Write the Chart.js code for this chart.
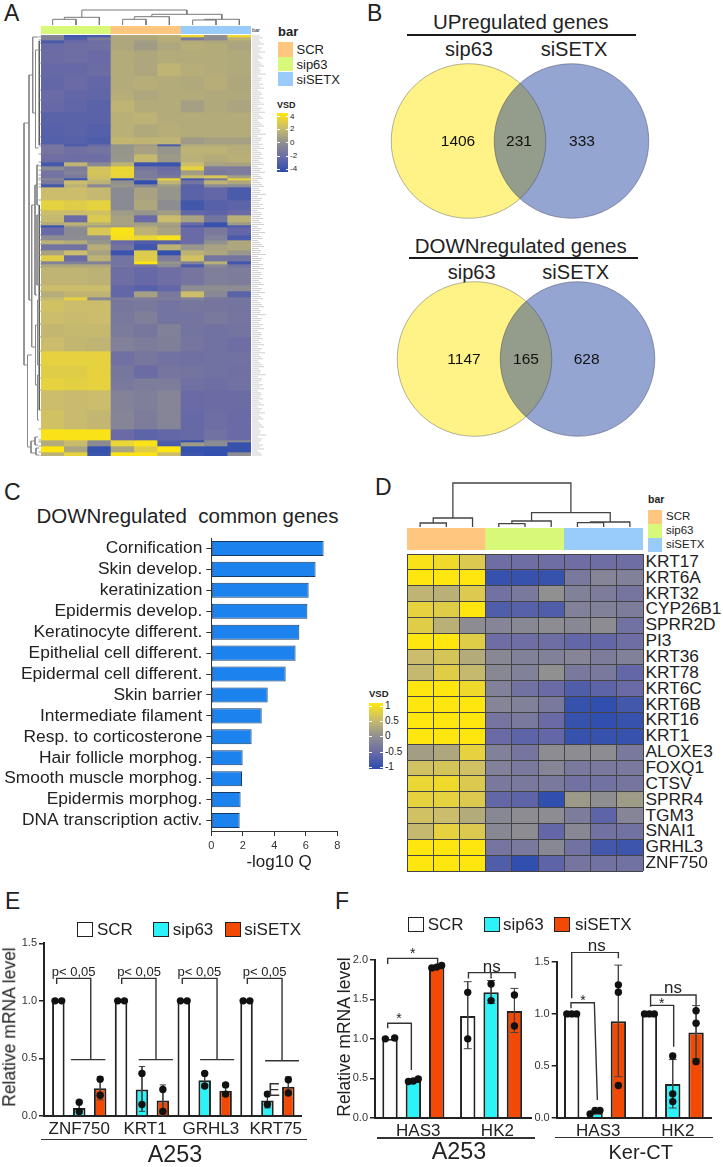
<!DOCTYPE html>
<html>
<head>
<meta charset="utf-8">
<title>Panels A-F</title>
<script src="https://cdn.jsdelivr.net/npm/chart.js@4"></script>
<style>
  html, body { margin: 0; padding: 0; background: #fff; }
  #page { position: relative; width: 723px; height: 1167px; overflow: hidden; font-family: "Liberation Sans", sans-serif; color: #222; }
  #page canvas { position: absolute; }
  .t { position: absolute; white-space: pre; line-height: 1; }
  .box { position: absolute; box-sizing: border-box; }
</style>
</head>
<body>
<div id="page"></div>
<script>
// ---------- data ----------
const groupNames = ['SCR', 'sip63', 'siSETX'];
const annoColors = ['#FFC680', '#D8F87A', '#99CCFA'];

// panel A: VSD per gene cluster (sip63 x3, SCR x3, siSETX x3), clusterSizes = row count of each cluster
const clusterSizesA = [2,3,3,7,13,13,14,10,12,12,13,7,2,8,8,4,4,5,3,2,4,3,13,10,5,7,3,2,8,5,
  4,6,5,6,3,3,18,6,6,3,11,13,13,14,14,13,12,20,19,11,2,4,6,4];
const hmARows = [
  [-.5,-3.3,-3,1.2,1.2,1.4,3.3,0,3.3],
  [-.8,-2.8,-1.2,1,1,1.3,-1.2,-.2,1.5],
  [-3,-2,-1.8,1,.6,1.2,1.2,1,1],
  [-2,-1.8,-1.7,1,.5,1,1.3,1.2,.9],
  [-1.9,-1.8,-2,1.2,1,1.2,1.2,1.2,1.1],
  [-2.1,-2.1,-1.9,1.2,1,1.6,1.3,1.2,1.1],
  [-2.2,-2,-2.2,1.2,1.3,1.2,1.1,1.3,1],
  [-2,-2.2,-2.3,1.3,1,1.2,1.2,1.1,1.1],
  [-2.1,-2.3,-2.5,1.6,1.2,1.2,.7,1.1,.9],
  [-2.5,-2.5,-2.5,1.4,1.5,1.2,1.2,1.2,1.2],
  [-2.6,-2.5,-2.7,1.4,1.1,1.3,1.2,1.2,1.2],
  [-2.7,-2.6,-2.8,1.7,1.6,1.6,.5,.7,.7],
  [-1.5,-3,-2,.2,.5,-3,1.2,1.2,1.2],
  [-1.4,-1.7,-1.5,.2,.8,.2,1.5,1.5,1.3],
  [-1.8,-1.8,-1.8,.3,1.8,.4,1.4,1.2,1.4],
  [-3.2,1.6,-.5,1.5,-3.4,-3.5,2,.8,.8],
  [-.3,-1,2.2,3.2,-1.5,-1.9,3,-1,-1],
  [-1.5,-.8,2.4,3.2,-1,-1.7,.6,-1.2,-1],
  [-1.5,-1.2,2.2,3,-1,-1.2,2,2.5,.7],
  [-.5,-3.4,2,-3.7,-.5,3.2,-3.2,-1.5,3],
  [-1.2,2,1.5,0,-3.8,1.6,-1.5,1.5,1],
  [-3.2,1.5,-.5,.3,-.5,.5,-2.5,-.2,-.2],
  [2,2,1.8,-.3,.8,.2,-2.5,-2.2,-3],
  [3,2.8,3,-.3,1,-.2,-3.2,-2.6,-2.4],
  [2,2,2.2,.5,.2,.6,-2.2,-2.4,-2],
  [1.8,-2,2.6,.8,-2,2,.8,-1.5,1.4],
  [1.2,1.5,1.5,.8,.6,.8,-2,-3.6,.5],
  [-3.5,.5,.5,.5,1,.5,-3,-3.5,-3],
  [-2,-.3,2.5,3.8,1.5,.8,-2,-1.2,-2.2],
  [-.2,-.2,-.2,3.6,3.2,3.7,-2,-.8,-3],
  [1.5,1.2,.2,-2,-2.8,-2.6,-2,0,1],
  [-1.5,-1.6,1.3,-1.5,-3.3,1.5,.3,.8,1],
  [.8,2,.8,-3.5,2.6,-3.8,1.5,1,.3],
  [2.8,-2,1.5,-1.5,2.8,-1,2.2,-1.5,-1.5],
  [-.8,-.8,-.8,-1.5,3.9,.2,-.8,1.4,-3.3],
  [1,1,1,-1.5,-1.5,-.3,-3,-.5,-1.5],
  [1.6,1.6,1.5,-1.8,-2.1,-1.8,-1.4,-.9,-1],
  [2,2,2,-2.2,-2.6,-2.2,-.2,-.1,-.2],
  [1.3,1.6,1.6,-2.2,.7,-1.2,2,-.5,-2.5],
  [1.8,3,-.5,-1,-1,-1,-.8,-1.3,-1.3],
  [2.2,2,2,-1.3,-1.2,-1.5,-1.3,-1.4,-1.5],
  [2,1.9,2,-1.2,-.9,-1.5,-1.5,-1.2,-1.4],
  [1.7,1.8,1.8,-1.1,-1.3,-.8,-1.5,-1.6,-1.5],
  [2,1.7,1.6,-.8,-1,-.9,-1.4,-1.6,-1.8],
  [3,3,3,-1.7,-1.3,-1.6,-1.7,-1.6,-1.6],
  [2.8,2.8,3,-1.3,-1.9,-1.4,-1.5,-1.6,-1.7],
  [3,2.9,3,-1.2,-1,-1,-1.7,-1.8,-1.6],
  [2,1.9,2,-.7,-.9,-.6,-2,-1.9,-1.9],
  [2.2,1.9,1.7,-.6,-1,-.6,-2.1,-1.8,-2],
  [3.8,3.8,3.8,-2,-2.4,-2.2,-2.1,-1.6,-2],
  [1.2,1.9,-.3,3.2,3.8,-2.8,-3.6,-.3,-.3],
  [1.2,1.9,-.3,3.2,3.8,-3,.5,-.2,-3.6],
  [4,.9,-3.7,.9,2.8,4,-3.7,-3.7,-3.6],
  [1.5,3,-3.4,3.8,3.8,2,-3.4,-3.8,-.2]
];
// dendrogram merges: [pos1, pos2, height, childHeight1, childHeight2]
const dendroTopA = [[.5,1.5,5.7,0,0],[1,2.5,7.7,5.7,0],[3.5,4.5,5.7,0,0],[4,5.5,8.3,5.7,0],[6.5,7.5,5,0,0],[7,8.5,5.7,5,0],[4.75,7.75,10.7,8.3,5.7],[1.75,6.25,15,7.7,10.7]];
const dendroLeftA = [[88,330,17,12,13.5],[40,265,12,8.3,9.3],[2,78,8.3,3,5.5],[15,113,5.5,2.5,2.5],[170,312,9.3,6,5.5],[150,260,6,4,4],[290,350,5.5,3.5,3.5],
  [130,170,4,2,2],[180,250,4,2,2],[265,330,3.5,2,2],[340,385,3.5,2,2],[320,412,13.5,9.3,10],[406,418,10,6,5],[402,410,6,3,3],[413,420,5,2,2]];
const rowLabelLengthsA = [8,11,7,9,12,6,10,8,13,7,9,11,6,8,10,12,7,9,8,14,6,10,9,7,11,8,12,6,9,10];

// panel B
const vennCentersX = [-51.5, 51.5];
const vennRadius = 77.3;
const vennUpCounts = ['1406', '231', '333'];
const vennDownCounts = ['1147', '165', '628'];

// panel C
const termsC = ['Cornification','Skin develop.','keratinization','Epidermis develop.','Keratinocyte different.','Epithelial cell different.','Epidermal cell different.','Skin barrier','Intermediate filament','Resp. to corticosterone','Hair follicle morphog.','Smooth muscle morphog.','Epidermis morphog.','DNA transcription activ.'];
const qValuesC = [7.13,6.62,6.18,6.1,5.59,5.35,4.72,3.58,3.2,2.56,1.99,1.95,1.86,1.8];
const qTicksC = [0,2,4,6,8];

// panel D (SCR x3, sip63 x3, siSETX x3)
const genesD = ['KRT17','KRT6A','KRT32','CYP26B1','SPRR2D','PI3','KRT36','KRT78','KRT6C','KRT6B','KRT16','KRT1','ALOXE3','FOXQ1','CTSV','SPRR4','TGM3','SNAI1','GRHL3','ZNF750'];
const hmDRows = [
  [.95,.85,.65,-.45,-.45,-.45,-.45,-.45,-.45],
  [1,1,1,-.9,-.9,-.9,-.3,-.15,-.2],
  [.4,.35,.65,-.4,-.3,0,-.2,-.25,-.35],
  [.75,.7,1,-.7,-.65,-.7,-.2,-.2,-.25],
  [.7,.35,-.05,-.15,-.1,-.05,-.1,-.05,-.4],
  [1,1,.7,-.45,-.45,-.45,-.55,-.55,-.45],
  [.5,.6,.3,-.1,-.2,-.2,-.15,-.25,-.2],
  [.45,.7,.45,-.1,-.2,0,-.3,-.3,-.55],
  [1,1,.85,-.2,-.4,-.5,-.7,-.6,-.5],
  [1,1,1,-.15,-.2,-.3,-.9,-.95,-.8],
  [1,1,1,-.35,-.3,-.5,-.9,-.95,-.9],
  [1,1,1,-.5,-.6,-.55,-.9,-.9,-.9],
  [.15,.25,.75,-.2,-.35,-.05,-.05,-.05,-.3],
  [.55,.6,.55,-.2,-.3,-.15,-.3,-.3,-.3],
  [.8,.85,.65,-.3,-.3,-.3,-.4,-.4,-.35],
  [.75,.75,.65,-.55,-.6,-.95,.1,-.02,.12],
  [.55,.5,.3,-.1,-.05,-.05,-.25,-.6,-.15],
  [.45,.75,.65,-.1,-.05,-.55,-.1,-.4,-.4],
  [1,1,1,-.35,-.3,-.1,-.4,-.8,-.85],
  [1,1,1,-.7,-.95,-.6,-.35,-.4,-.4]
];
const dendroTopD = [[.5,1.5,4,0,0],[1,2.5,9,4,0],[3.5,4.5,3.3,0,0],[4,5.5,6,3.3,0],[6.5,7.5,4.3,0,0],[7,8.5,5,4.3,0],[4.75,7.75,14.3,6,5],[1.75,6.25,44,9,14.3]];

// panel E
const genesE = ['ZNF750','KRT1','GRHL3','KRT75'];
const scrE = [1,1,1,1];
const sip63E = [.07,.23,.31,.135];
const siSETXE = [.24,.135,.22,.255];
const scrDotsE = [[1,1],[1,1],[1,1],[1,1]];
const sip63DotsE = [[.12,.04],[.37,.1],[.37,.26],[.19,.1]];
const siSETXDotsE = [[.32,.18],[.23,.04],[.27,.19],[.315,.2]];
const sip63ErrE = [[.02,.13],[.04,.43],[.25,.38],[.07,.21]];
const siSETXErrE = [[.14,.34],[0,.27],[.17,.285],[.18,.34]];

// panel F, A253
const genesF = ['HAS3','HK2'];
const scrF1 = [1,1.29];
const sip63F1 = [.465,1.59];
const siSETXF1 = [1.92,1.353];
const scrDotsF1 = [[1,1.01],[1.59,1]];
const sip63DotsF1 = [[.46,.465,.49],[1.695,1.485]];
const siSETXDotsF1 = [[1.9,1.91,1.93],[1.556,1.163]];
const scrErrF1 = [null,[.875,1.725]];
const sip63ErrF1 = [null,[1.45,1.74]];
const siSETXErrF1 = [null,[1.08,1.64]];

// panel F, Ker-CT
const scrF2 = [1,1];
const sip63F2 = [.048,.325];
const siSETXF2 = [.93,.82];
const scrDotsF2 = [[1,1,1],[1,1,1]];
const sip63DotsF2 = [[.035,.07,.07],[.594,.23,.155]];
const siSETXDotsF2 = [[1.28,1.208,.31],[1.03,.91,.54]];
const scrErrF2 = [null,null];
const sip63ErrF2 = [null,[.093,.56]];
const siSETXErrF2 = [[.395,1.47],[.57,1.08]];

// ---------- helpers ----------
Chart.defaults.animation = false;
Chart.defaults.font.family = '"Liberation Sans", sans-serif';
Chart.defaults.plugins.legend.display = false;
Chart.defaults.plugins.tooltip.enabled = false;
const FONT_COLOR = '#222';
const page = document.getElementById('page');

function newCanvas(left, top, w, h) {
  const c = document.createElement('canvas');
  c.width = w; c.height = h;
  c.style.left = left + 'px'; c.style.top = top + 'px';
  c.style.width = w + 'px'; c.style.height = h + 'px';
  page.appendChild(c);
  return c;
}
// x, y = centre of the text unless anchor says otherwise
function label(text, x, y, size, opts) {
  opts = opts || {};
  const d = document.createElement('div');
  d.className = 't';
  d.textContent = text;
  d.style.left = x + 'px'; d.style.top = y + 'px';
  d.style.fontSize = size + 'px';
  if (opts.bold) d.style.fontWeight = 'bold';
  if (opts.color) d.style.color = opts.color;
  if (opts.bg) d.style.background = opts.bg;
  const tx = opts.anchor === 'left' ? '0' : opts.anchor === 'right' ? '-100%' : '-50%';
  d.style.transform = `translate(${tx},-50%)` + (opts.rot ? ` rotate(${opts.rot}deg)` : '');
  page.appendChild(d);
}
function box(x, y, w, h, bg, border) {
  const d = document.createElement('div');
  d.className = 'box';
  d.style.cssText = `left:${x}px;top:${y}px;width:${w}px;height:${h}px;background:${bg};` + (border ? `border:${border};` : '');
  page.appendChild(d);
  return d;
}
// colour map shared by both heat maps, t from -1 to 1
const cmapStops = [[-1,[42,76,175]],[-.5,[106,106,166]],[0,[144,144,144]],[.5,[203,189,108]],[1,[255,230,15]]];
function cmap(t) {
  t = Math.max(-1, Math.min(1, t));
  for (let i = 1; i < cmapStops.length; i++) {
    if (t <= cmapStops[i][0]) {
      const a = cmapStops[i-1], b = cmapStops[i], f = (t - a[0]) / (b[0] - a[0]);
      const c = a[1].map((v, k) => Math.round(v + (b[1][k] - v) * f));
      return `rgb(${c.join(',')})`;
    }
  }
}
function colorBar(x, y, w, h) {
  const stops = cmapStops.slice().reverse().map(s => `rgb(${s[1].join(',')}) ${(1 - s[0]) * 50}%`).join(',');
  box(x, y, w, h, `linear-gradient(to bottom, ${stops})`);
}
const hiddenAxis = (extra) => Object.assign({ display: false }, extra);

// stacked bars: one dataset per row, one bar per column
function heatChart(left, top, w, h, sizes, rows, colorOf, gridColor) {
  const pad = gridColor ? 1 : 0;
  const total = sizes.reduce((a, b) => a + b, 0);
  const columns = rows[0].map((_, i) => 'c' + i);
  const gridOpts = gridColor ? { display: true, ticks: { display: false }, border: { display: false },
    grid: { color: gridColor, lineWidth: 1, drawTicks: false, z: 1 } } : { display: false };
  new Chart(newCanvas(left - pad, top - pad, w + 2 * pad, h + 2 * pad), {
    type: 'bar',
    data: {
      labels: columns,
      datasets: rows.map((r, i) => ({
        data: r.map(() => sizes[i]),
        backgroundColor: r.map(colorOf),
        borderWidth: 0, barPercentage: 1, categoryPercentage: 1
      }))
    },
    options: {
      responsive: false,
      layout: { padding: pad, autoPadding: false },
      scales: {
        x: Object.assign({ stacked: true }, gridOpts),
        y: Object.assign({ stacked: true, reverse: true, min: 0, max: total, ticks: { display: false, stepSize: 1 } }, gridOpts,
          gridColor ? { ticks: { display: false, stepSize: 1 } } : {})
      }
    }
  });
}
function dendroPoints(links, horizontal) {
  const pts = [];
  const add = (pos, h) => pts.push(horizontal ? { x: pos, y: h } : { x: h, y: pos });
  links.forEach(l => {
    add(l[0], l[3]); add(l[0], l[2]); add(l[1], l[2]); add(l[1], l[4]);
    pts.push({ x: NaN, y: NaN });
  });
  return pts;
}
function lineChart(left, top, w, h, xr, yr, datasets) {
  new Chart(newCanvas(left, top, w, h), {
    type: 'scatter',
    data: { datasets: datasets.map(d => Object.assign({ showLine: true, pointRadius: 0, clip: false, spanGaps: false }, d)) },
    options: {
      responsive: false,
      layout: { autoPadding: false },
      scales: {
        x: hiddenAxis({ type: 'linear', min: xr[0], max: xr[1], reverse: !!xr[2] }),
        y: hiddenAxis({ type: 'linear', min: yr[0], max: yr[1], reverse: !!yr[2] })
      }
    }
  });
}
function venn(centerX, centerY) {
  new Chart(newCanvas(centerX - 160, centerY - 85, 320, 170), {
    type: 'bubble',
    data: {
      datasets: [
        { data: [{ x: vennCentersX[0], y: 0, r: vennRadius }], backgroundColor: '#FFF287', borderColor: 'rgba(60,60,60,.55)', borderWidth: .7, order: 2 },
        { data: [{ x: vennCentersX[1], y: 0, r: vennRadius }], backgroundColor: 'rgba(0,40,148,.42)', borderColor: 'rgba(40,40,60,.55)', borderWidth: .7, order: 1 }
      ]
    },
    options: {
      responsive: false,
      layout: { autoPadding: false },
      scales: { x: hiddenAxis({ min: -160, max: 160 }), y: hiddenAxis({ min: -85, max: 85 }) }
    }
  });
}
// fixed axis size and no label overhang, so the plot area lands where it is asked to
const fitTo = (size) => (scale) => {
  if (scale.isHorizontal()) scale.height = size; else scale.width = size;
  scale.paddingTop = scale.paddingBottom = scale.paddingLeft = scale.paddingRight = 0;
};

// bars + whiskers + dots + brackets on a numeric x axis
function barPanel(cfg) {
  const barX = (g, s) => cfg.groupX[g] + s;
  const barData = cfg.series.map((vals, s) => vals.map((v, g) => ({ x: barX(g, s), y: v })));
  const dots = [], whisk = [], brackets = [];
  cfg.dots.forEach((perGroup, s) => perGroup.forEach((ys, g) => {
    const near = Math.max(...ys) - Math.min(...ys) < .05;
    ys.forEach((y, i) => {
      const off = !near ? 0 : ys.length === 2 ? (i ? cfg.spread2 : -cfg.spread2) : (i - 1) * .21;
      dots.push({ x: barX(g, s) + off, y: y });
    });
  }));
  cfg.errs.forEach((perGroup, s) => perGroup.forEach((e, g) => {
    if (!e) return;
    const x = barX(g, s), c = cfg.cap;
    whisk.push({ x: x - c, y: e[1] }, { x: x + c, y: e[1] }, { x: NaN, y: NaN }, { x: x, y: e[1] }, { x: x, y: e[0] }, { x: NaN, y: NaN },
      { x: x - c, y: e[0] }, { x: x + c, y: e[0] }, { x: NaN, y: NaN });
  }));
  cfg.brackets.forEach(b => { b.forEach(p => brackets.push({ x: p[0], y: p[1] })); brackets.push({ x: NaN, y: NaN }); });
  const colors = ['#fff', '#2BF3F8', '#F24A04'];
  const datasets = barData.map((d, s) => ({
    label: groupNames[s], type: 'bar', data: d, backgroundColor: colors[s], borderColor: '#222', borderWidth: 2,
    grouped: false, barPercentage: cfg.barPct, categoryPercentage: 1, order: 5
  }));
  datasets.push({ type: 'scatter', data: whisk, showLine: true, pointRadius: 0, borderColor: '#444', borderWidth: 1, order: 3 });
  datasets.push({ type: 'scatter', data: brackets, showLine: true, pointRadius: 0, borderColor: '#333', borderWidth: 1.4, clip: false, order: 2 });
  datasets.push({ type: 'scatter', data: dots, pointRadius: 3.7, backgroundColor: '#111', borderWidth: 0, clip: false, order: 1 });
  new Chart(newCanvas(cfg.left, cfg.top, cfg.w, cfg.h), {
    data: { datasets },
    options: {
      responsive: false,
      layout: { autoPadding: false, padding: cfg.padding },
      scales: {
        x: {
          type: 'linear', min: cfg.xr[0], max: cfg.xr[1], offset: false,
          afterBuildTicks: (s) => { s.ticks = cfg.tickX.map(v => ({ value: v })); },
          afterFit: fitTo(cfg.axisH),
          ticks: { autoSkip: false, maxRotation: 0, padding: 3, color: FONT_COLOR, font: { size: 17 }, callback: (v, i) => cfg.tickLabels[i] },
          grid: { display: false, drawTicks: false, offset: false }, border: { color: '#222', width: 2 }
        },
        y: {
          min: 0, max: cfg.yMax,
          afterFit: fitTo(cfg.axisW),
          ticks: { stepSize: .5, padding: 2, color: '#333', font: { size: 11 }, callback: v => v.toFixed(1) },
          grid: { drawOnChartArea: false, tickLength: 5, color: '#222', lineWidth: 1.5 }, border: { color: '#222', width: 2 }
        }
      }
    }
  });
}
function barLegend(items) {
  const fills = ['#fff', '#2BF3F8', '#F24A04'];
  items.forEach((it, i) => {
    box(it[0], it[1], 16, 15, fills[i], '1.5px solid #222');
    label(groupNames[i], it[2], it[1] + 6.5, 17, { anchor: 'left' });
  });
}

// ---------- panel letters ----------
[['A',4,13],['B',367,13],['C',4,492],['D',375,487],['E',5,901],['F',335,901]].forEach(p => label(p[0], p[1], p[2], 23, { anchor: 'left' }));

// ---------- panel A ----------
const colOrderA = [1, 1, 1, 0, 0, 0, 2, 2, 2];
heatChart(41, 26, 210, 8, [1], [colOrderA], g => annoColors[g]);
heatChart(41, 35, 210, 421, clusterSizesA, hmARows, v => cmap(v / 4));
lineChart(41, 8, 210, 17, [0, 9], [0, 17], [{ data: dendroPoints(dendroTopA, true), borderColor: '#777', borderWidth: 1 }]);
// leaves of the row dendrogram follow the cluster edges
const leavesA = [];
let rowSum = 0;
clusterSizesA.forEach(n => { rowSum += n; leavesA.push({ x: 0, y: rowSum }, { x: 2.5, y: rowSum }, { x: NaN, y: NaN }); });
lineChart(20, 35, 21, 421, [0, 21, true], [0, 421, true], [
  { data: dendroPoints(dendroLeftA, false), borderColor: '#888', borderWidth: 1 },
  { data: leavesA, borderColor: '#888', borderWidth: .8 },
  { data: [{ x: 1.8, y: 6 }, { x: 1.8, y: 110 }, { x: NaN, y: NaN }, { x: 1.8, y: 170 }, { x: 1.8, y: 375 }], borderColor: '#333', borderWidth: 1.2 }
]);
// row labels are too small to read in the figure: light strokes of label length
const rowMarksA = [];
for (let i = 0; i < 210; i++) {
  rowMarksA.push({ x: 0, y: i + .5 }, { x: rowLabelLengthsA[i % rowLabelLengthsA.length], y: i + .5 }, { x: NaN, y: NaN });
}
lineChart(252, 35, 15, 421, [0, 15], [0, 210, true], [{ data: rowMarksA, borderColor: '#cfcfcf', borderWidth: 1 }]);
label('bar', 252, 30.7, 5.5, { anchor: 'left' });
label('bar', 278, 30.7, 13, { anchor: 'left', bold: true });
[42, 56.7, 71.5].forEach((y, i) => {
  box(278, y, 14.5, 14.5, annoColors[i]);
  label(groupNames[i], 296.5, y + 7.3, 13, { anchor: 'left' });
});
label('VSD', 277, 105, 9, { anchor: 'left', bold: true });
colorBar(277.3, 113.3, 11, 58.4);
[['4',116.7],['2',129.3],['0',142.7],['-2',156],['-4',169.3]].forEach(p => {
  box(277.3, p[1] - .4, 2.5, .8, '#fff'); box(285.8, p[1] - .4, 2.5, .8, '#fff');
  label(p[0], 290, p[1], 8, { anchor: 'left' });
});

// ---------- panel B ----------
function vennPanel(title, titleY, lineX, lineW, lineY, sipX, setxX, nameY, cx, cy, counts, countX) {
  label(title, 520.7, titleY, 20.5);
  box(lineX, lineY - 1, lineW, 2, '#1a1a1a');
  label('sip63', sipX, nameY, 20); label('siSETX', setxX, nameY, 20);
  venn(cx, cy);
  counts.forEach((c, i) => label(c, countX[i], cy, 15.5, { color: '#111' }));
}
vennPanel('UPregulated genes', 22, 406.7, 229.3, 34.7, 469, 574, 48.5, 520.2, 140.8, vennUpCounts, [458, 519, 582]);
vennPanel('DOWNregulated genes', 245.5, 409, 229, 258.3, 471.7, 575.7, 271.5, 525.8, 359.2, vennDownCounts, [464, 526, 586.7]);

// ---------- panel C ----------
label('DOWNregulated  common genes', 36.5, 516, 20.5, { anchor: 'left' });
new Chart(newCanvas(0, 530, 345, 345), {
  type: 'bar',
  data: { labels: termsC, datasets: [{ data: qValuesC, backgroundColor: '#1B82EE', borderColor: '#173a63', borderWidth: 1, borderSkipped: false, barPercentage: .72, categoryPercentage: 1 }] },
  options: {
    indexAxis: 'y', responsive: false,
    layout: { autoPadding: false, padding: { top: 8, right: 7.7 } },
    scales: {
      x: {
        min: qTicksC[0], max: qTicksC[qTicksC.length - 1], afterFit: fitTo(44),
        ticks: { stepSize: 2, padding: 3, color: '#333', font: { size: 11 } },
        grid: { drawOnChartArea: false, tickLength: 5, color: '#333' }, border: { color: '#333', width: 1 }
      },
      y: {
        afterFit: fitTo(211.3),
        ticks: { autoSkip: false, padding: 4, color: FONT_COLOR, font: { size: 17.4 } },
        grid: { drawOnChartArea: false, tickLength: 5, color: '#333', offset: false }, border: { color: '#333', width: 1 }
      }
    }
  }
});
label('-log10 Q', 279, 861, 17);

// ---------- panel D ----------
heatChart(407.3, 528, 236, 21.5, [1], [[0,0,0,1,1,1,2,2,2]], g => annoColors[g]);
heatChart(407.3, 554, 236, 317, genesD.map(() => 1), hmDRows, v => cmap(v), '#444');
lineChart(407.3, 480, 236, 47, [0, 9], [0, 47], [{ data: dendroPoints(dendroTopD, true), borderColor: '#444', borderWidth: 1.3 }]);
genesD.forEach((g, i) => label(g, 645.5, 554 + (i + .5) * 15.85, 17.3, { anchor: 'left' }));
label('bar', 648, 499, 10.5, { anchor: 'left', bold: true });
[510, 524, 538].forEach((y, i) => {
  box(648, y, 13.5, 13.5, annoColors[i]);
  label(groupNames[i], 666, y + 7, 11.5, { anchor: 'left' });
});
label('VSD', 369, 694, 9.5, { anchor: 'left', bold: true });
colorBar(369, 703, 13.5, 66);
[['1',706],['0.5',721],['0',736],['-0.5',752],['-1',767]].forEach(p => {
  box(369, p[1] - .4, 2.5, .8, '#fff'); box(380, p[1] - .4, 2.5, .8, '#fff');
  label(p[0], 385, p[1], 10, { anchor: 'left' });
});

// ---------- panel E ----------
barPanel({
  left: 0, top: 935, w: 310, h: 210, padding: { top: 8.3, right: 8.3 }, axisW: 44, axisH: 29,
  xr: [-.686, 11.64], yMax: 1.5, groupX: [0, 3, 6, 9], barPct: .6, cap: .15, spread2: .16,
  series: [scrE, sip63E, siSETXE], dots: [scrDotsE, sip63DotsE, siSETXDotsE],
  errs: [[null, null, null, null], sip63ErrE, siSETXErrE],
  brackets: [
    [[-.08,1.146],[-.08,1.195],[1.55,1.195],[1.55,.49]], [[.6,.49],[2.25,.49]],
    [[3.03,1.146],[3.03,1.195],[4.67,1.195],[4.67,.49]], [[3.84,.49],[5.48,.49]],
    [[5.93,1.146],[5.93,1.195],[7.59,1.195],[7.59,.49]], [[6.78,.49],[8.41,.49]],
    [[9.04,1.146],[9.04,1.195],[10.7,1.195],[10.7,.48]], [[9.89,.48],[11.51,.48]]
  ],
  tickX: [1, 4.15, 7.3, 10.4], tickLabels: genesE
});
[221, 417, 598, 794].forEach(z => label('p< 0,05', z / 3, 971, 13));
label('Relative mRNA level', 10, 1027, 17.5, { rot: -90 });
barLegend([[77, 922, 97], [153, 922, 172.7], [225, 922, 244.3]]);
box(40.7, 1138.5, 266, 1.6, '#333');
label('A253', 175, 1155, 23.3);
label('E', 274, 1090, 18, { color: '#333' });

// ---------- panel F ----------
const fGroupStep = 3.33;
barPanel({
  left: 340, top: 950, w: 200, h: 195, padding: { top: 10, right: 8.3 }, axisW: 35, axisH: 27.3,
  xr: [-.643, 6.07], yMax: 2, groupX: [0, fGroupStep], barPct: .66, cap: .17, spread2: .2,
  series: [scrF1, sip63F1, siSETXF1], dots: [scrDotsF1, sip63DotsF1, siSETXDotsF1],
  errs: [scrErrF1, sip63ErrF1, siSETXErrF1],
  brackets: [
    [[-.1,1.133],[-.1,1.197],[.914,1.197],[.914,.605]],
    [[-.1,1.95],[-.1,2.02],[2.04,2.02],[2.04,1.95]],
    [[3.36,1.765],[3.36,1.84],[5.36,1.84],[5.36,1.765]], [[4.33,1.84],[4.33,1.765]]
  ],
  tickX: [1.21, 4.6], tickLabels: genesF
});
barPanel({
  left: 520, top: 952, w: 200, h: 193, padding: { top: 10, right: 8.3 }, axisW: 36.7, axisH: 27.3,
  xr: [-.643, 6], yMax: 1.5, groupX: [0, fGroupStep], barPct: .66, cap: .17, spread2: .2,
  series: [scrF2, sip63F2, siSETXF2], dots: [scrDotsF2, sip63DotsF2, siSETXDotsF2],
  errs: [scrErrF2, sip63ErrF2, siSETXErrF2],
  brackets: [
    [[0,1.15],[0,1.593],[2,1.593],[2,1.535]],
    [[-.03,1.054],[-.03,1.108],[.97,1.108],[1.1,.17]],
    [[3.38,1.07],[3.38,1.182],[5.33,1.182],[5.33,1.086]],
    [[3.38,1.082],[4.37,1.082],[4.37,.684]]
  ],
  tickX: [1.14, 4.55], tickLabels: genesF
});
label('Relative mRNA level', 345, 1037, 17.5, { rot: -90 });
barLegend([[408, 917, 427.7], [484, 917, 503], [554, 917, 575]]);
label('*', 399, 1018, 14); label('*', 412.7, 953, 14);
label('ns', 491.7, 966, 17);
label('ns', 596.7, 945, 17); label('*', 583, 1000, 14);
label('ns', 673, 986.7, 17); label('*', 661.7, 1003, 14);
box(376.7, 1137, 158.3, 1.6, '#333');
box(555, 1136.5, 157.7, 1.6, '#333');
label('A253', 459, 1152, 23.3);
label('Ker-CT', 640.7, 1152, 20);
</script>
</body>
</html>
